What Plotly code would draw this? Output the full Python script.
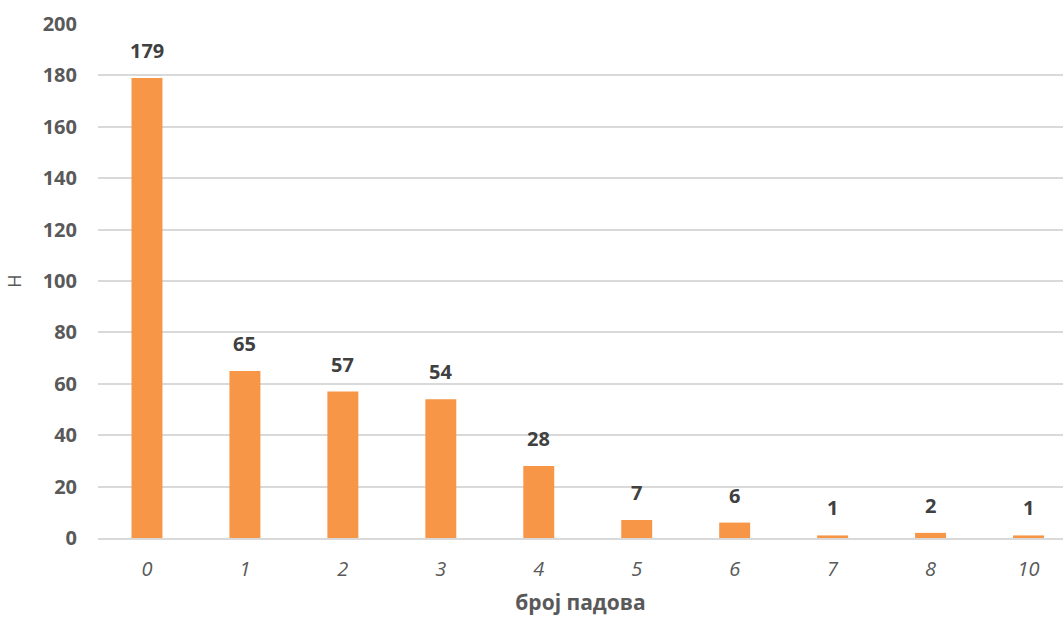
import plotly.graph_objects as go

# Number of falls and count of respondents
categories = ["0", "1", "2", "3", "4", "5", "6", "7", "8", "10"]
counts = [179, 65, 57, 54, 28, 7, 6, 1, 2, 1]

y_ticks = [0, 20, 40, 60, 80, 100, 120, 140, 160, 180, 200]

bar_color = "#F79646"
label_color = "#404040"
tick_color = "#595959"
grid_color = "#D9D9D9"
font_family = "Open Sans, DejaVu Sans, sans-serif"

fig = go.Figure()
fig.add_trace(go.Bar(
    x=categories,
    y=counts,
    marker=dict(color=bar_color, line=dict(width=0)),
    hoverinfo="x+y",
))

# Value labels above each bar (positioned by category index)
for i, v in enumerate(counts):
    fig.add_annotation(
        x=i, y=v, text=f"<b>{v}</b>", showarrow=False,
        yanchor="bottom", yshift=12,
        font=dict(family=font_family, size=20, color=label_color),
    )

fig.update_layout(
    width=1063, height=619,
    margin=dict(l=98, r=0, t=24, b=81),
    paper_bgcolor="white", plot_bgcolor="white",
    showlegend=False,
    bargap=0.684,
    font=dict(family=font_family, color=tick_color),
)
fig.update_xaxes(
    type="category",
    range=[-0.5, 9.352],
    tickfont=dict(family=font_family, size=20, color=tick_color),
    tickprefix="<i>", ticksuffix="</i>",
    ticklabelstandoff=12,
    ticks="", showgrid=False,
    showline=True, linecolor=grid_color, linewidth=2,
    title=dict(text="<b>број падова</b>", standoff=14,
               font=dict(family=font_family, size=21, color=tick_color)),
)
fig.update_yaxes(
    range=[0, 200],
    tickvals=y_ticks,
    ticktext=[f"<b>{t}</b>" for t in y_ticks],
    tickfont=dict(family=font_family, size=20, color=tick_color),
    ticklabelstandoff=20,
    showgrid=True, gridcolor=grid_color, gridwidth=2,
    zeroline=False, ticks="",
    title=dict(text="Н", standoff=16,
               font=dict(family=font_family, size=18, color=tick_color)),
)

fig.write_html("out.html")
